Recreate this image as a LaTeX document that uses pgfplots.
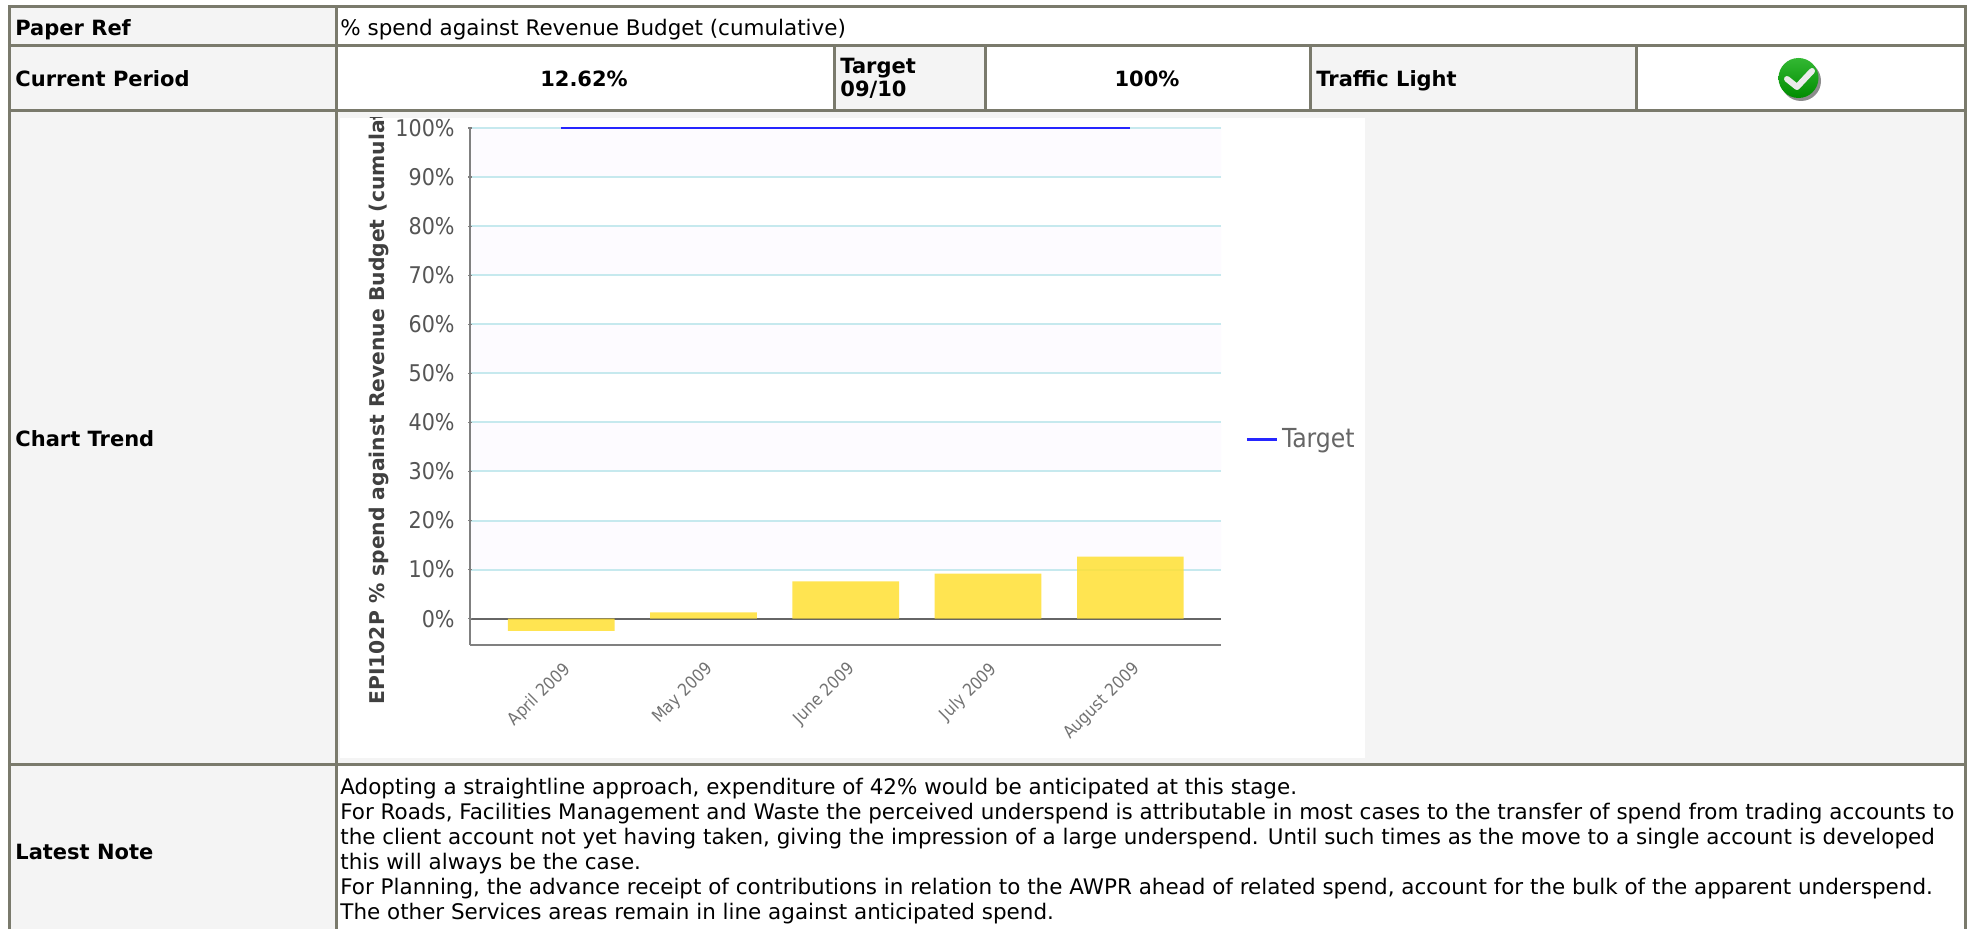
\documentclass[border=0pt]{standalone}
\usepackage{fontspec}
\usepackage{pgfplots}
\pgfplotsset{compat=1.18}
\setmainfont{DejaVu Sans}
\newfontfamily\chartfont{DejaVu Sans Condensed}
\definecolor{frame}{HTML}{7A7A6C}
\definecolor{cell}{HTML}{F4F4F4}
\definecolor{lav}{HTML}{FDFBFF}
\definecolor{gridc}{HTML}{C6E9EE}
\definecolor{barc}{HTML}{FFE033}
\definecolor{ticktext}{HTML}{555555}
\newcommand{\tfont}{\fontsize{10.73pt}{12.5pt}\selectfont}
\newcommand{\tbfont}{\fontsize{10.5pt}{12.5pt}\selectfont\bfseries}
\begin{document}
\begin{tikzpicture}
\begin{scope}[x=0.5pt,y=-0.5pt]
\path[use as bounding box] (0,0) rectangle (1967,929);
% cell backgrounds
\fill[white] (0,0) rectangle (1967,929);
\fill[cell] (9,6) rectangle (335,929);
\fill[cell] (335,111) rectangle (1965,764);
\fill[white] (340,118) rectangle (1365,758);
\fill[cell] (834,46) rectangle (985,111);
\fill[cell] (1310,46) rectangle (1636,111);
\end{scope}
% chart
\begin{scope}
\clip (170pt,-59pt) rectangle (682.5pt,-379pt);
\begin{axis}[
  at={(235pt,-322.25pt)},anchor=south west,
  scale only axis,width=375.5pt,height=258.25pt,
  xmin=-0.641,xmax=4.637,ymin=-5.27,ymax=100,
  clip=false,axis on top,
  axis lines=left,
  axis line style={-,draw=black!50,line width=1pt},
  ytick={0,10,...,100},
  xtick={0,1,2,3,4},
  xticklabels={April 2009,May 2009,June 2009,July 2009,August 2009},
  yticklabel={\pgfmathprintnumber{\tick}\%},
  /pgf/number format/assume math mode=true,
  major tick length=2pt,
  ytick style={draw=black!50,line width=.6pt},
  xtick style={draw=none},
  yticklabel style={font=\chartfont\fontsize{11.5pt}{13pt}\selectfont,text=ticktext,inner sep=0pt,xshift=-6.5pt},
  xticklabel style={font=\chartfont\fontsize{8.6pt}{11pt}\selectfont,text=black!55,rotate=45,anchor=north east,inner sep=0pt,xshift=-4.67pt,yshift=-5.09pt},
  ylabel={EPI102P \% spend against Revenue Budget (cumulative)},
  ylabel style={font=\bfseries\fontsize{10.15pt}{12pt}\selectfont,text=black!75,at={(axis description cs:-0.114,-0.13)},anchor=base west,rotate=0},
  legend style={at={(1.032,0.397)},anchor=west,draw=none,fill=none,inner sep=0pt,
    font=\chartfont\fontsize{13.1pt}{15pt}\selectfont,text=black!60,
    /tikz/every even column/.style={column sep=1.5pt}},
  legend cell align=left,
  legend image code/.code={\draw[#1] (0pt,0pt) -- (15pt,0pt);},
]
\addplot[forget plot,draw=none,fill=lav] coordinates {(-0.641,90)(4.637,90)(4.637,100)(-0.641,100)} \closedcycle;
\addplot[forget plot,draw=none,fill=lav] coordinates {(-0.641,70)(4.637,70)(4.637,80)(-0.641,80)} \closedcycle;
\addplot[forget plot,draw=none,fill=lav] coordinates {(-0.641,50)(4.637,50)(4.637,60)(-0.641,60)} \closedcycle;
\addplot[forget plot,draw=none,fill=lav] coordinates {(-0.641,30)(4.637,30)(4.637,40)(-0.641,40)} \closedcycle;
\addplot[forget plot,draw=none,fill=lav] coordinates {(-0.641,10)(4.637,10)(4.637,20)(-0.641,20)} \closedcycle;
\addplot[forget plot,draw=gridc,line width=1pt] coordinates {(-0.641,10)(4.637,10)};
\addplot[forget plot,draw=gridc,line width=1pt] coordinates {(-0.641,20)(4.637,20)};
\addplot[forget plot,draw=gridc,line width=1pt] coordinates {(-0.641,30)(4.637,30)};
\addplot[forget plot,draw=gridc,line width=1pt] coordinates {(-0.641,40)(4.637,40)};
\addplot[forget plot,draw=gridc,line width=1pt] coordinates {(-0.641,50)(4.637,50)};
\addplot[forget plot,draw=gridc,line width=1pt] coordinates {(-0.641,60)(4.637,60)};
\addplot[forget plot,draw=gridc,line width=1pt] coordinates {(-0.641,70)(4.637,70)};
\addplot[forget plot,draw=gridc,line width=1pt] coordinates {(-0.641,80)(4.637,80)};
\addplot[forget plot,draw=gridc,line width=1pt] coordinates {(-0.641,90)(4.637,90)};
\addplot[forget plot,draw=gridc,line width=1pt] coordinates {(-0.641,100)(4.637,100)};
\addplot[forget plot,draw=black!60,line width=1pt] coordinates {(-0.641,0)(4.637,0)};
\addplot[forget plot,ybar,bar width=0.75,fill=barc,fill opacity=0.85,draw=none] coordinates {(0,-2.5)(1,1.3)(2,7.6)(3,9.2)(4,12.62)};
\addplot[draw=blue!85!white,line width=1.4pt] coordinates {(0,100)(1,100)(2,100)(3,100)(4,100)};
\addlegendentry{Target}
\end{axis}
\end{scope}
\begin{scope}[x=0.5pt,y=-0.5pt,txt/.style={inner sep=0pt,anchor=base west,text=black}]
% frame
\draw[frame,line width=1.5pt]
  (9,929) -- (9,6.5) -- (1965,6.5) -- (1965,929)
  (9,46) -- (1965,46)
  (9,111) -- (1965,111)
  (9,764) -- (1965,764)
  (336,6) -- (336,929)
  (834,46) -- (834,111)
  (985,46) -- (985,111)
  (1310,46) -- (1310,111)
  (1636,46) -- (1636,111);
% table text
\node[txt,font=\tbfont] at (15,36) {Paper Ref};
\node[txt,font=\tfont] at (340,36) {\% spend against Revenue Budget (cumulative)};
\node[txt,font=\tbfont] at (15,87) {Current Period};
\node[txt,font=\tbfont,anchor=base] at (584,87) {12.62\%};
\node[txt,font=\tbfont] at (840,74) {Target};
\node[txt,font=\tbfont] at (840,97) {09/10};
\node[txt,font=\tbfont,anchor=base] at (1147,87) {100\%};
\node[txt,font=\tbfont] at (1316,87) {Traffic Light};
\node[txt,font=\tbfont] at (15,446) {Chart Trend};
\node[txt,font=\tbfont] at (15,859) {Latest Note};
\node[txt,font=\tfont] at (340,794) {Adopting a straightline approach, expenditure of 42\% would be anticipated at this stage.};
\node[txt,font=\tfont] at (340,819) {For Roads, Facilities Management and Waste the perceived underspend is attributable in most cases to the transfer of spend from trading accounts to};
\node[txt,font=\tfont] at (340,844) {the client account not yet having taken, giving the impression of a large underspend. Until such times as the move to a single account is developed};
\node[txt,font=\tfont] at (340,869) {this will always be the case.};
\node[txt,font=\tfont] at (340,894) {For Planning, the advance receipt of contributions in relation to the AWPR ahead of related spend, account for the bulk of the apparent underspend.};
\node[txt,font=\tfont] at (340,919) {The other Services areas remain in line against anticipated spend.};
% traffic light
\fill[black!45] (1801,81) circle[radius=20];
\shade[top color=green!65!black!80!white,bottom color=green!55!black] (1798.5,78) circle[radius=20];
\draw[white!92!black,line width=3pt,line cap=round,line join=round] (1787,79) -- (1797,87) -- (1812,71);
\end{scope}
\end{tikzpicture}
\end{document}
